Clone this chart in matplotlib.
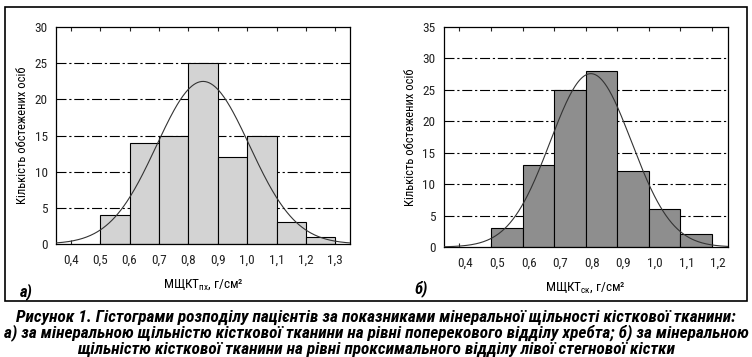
import numpy as np
import matplotlib
matplotlib.use('Agg')
import matplotlib.pyplot as plt
import matplotlib.transforms as mtransforms
from matplotlib import font_manager
from matplotlib.patches import Rectangle

# дані гістограм (межі інтервалів і кількість осіб)
edges_a = [0.5, 0.6, 0.7, 0.8, 0.9, 1.0, 1.1, 1.2, 1.3]
counts_a = [4, 14, 15, 25, 12, 15, 3, 1]
edges_b = [0.5, 0.6, 0.7, 0.8, 0.9, 1.0, 1.1, 1.2]
counts_b = [3, 13, 25, 28, 12, 6, 2]

xticks_a = [0.4, 0.5, 0.6, 0.7, 0.8, 0.9, 1.0, 1.1, 1.2, 1.3]
xticks_b = [0.4, 0.5, 0.6, 0.7, 0.8, 0.9, 1.0, 1.1, 1.2]
yticks_a = [0, 5, 10, 15, 20, 25, 30]
yticks_b = [0, 5, 10, 15, 20, 25, 30, 35]

ylabel = 'Кількість обстежених осіб'
xlabel_a = r'МЩКТ$_{\mathregular{пх}}$, г/см²'
xlabel_b = r'МЩКТ$_{\mathregular{ск}}$, г/см²'
caption = ('Рисунок 1. Гістограми розподілу пацієнтів за показниками мінеральної щільності кісткової тканини:\n'
           'а) за мінеральною щільністю кісткової тканини на рівні поперекового відділу хребта; б) за мінеральною\n'
           'щільністю кісткової тканини на рівні проксимального відділу лівої стегнової кістки')

installed = {f.name for f in font_manager.fontManager.ttflist}
narrow = next((f for f in ['Liberation Sans Narrow', 'Roboto Condensed', 'Liberation Sans']
               if f in installed), 'DejaVu Sans')
plt.rcParams['font.family'] = [narrow, 'DejaVu Sans']
plt.rcParams['mathtext.fontset'] = 'custom'
plt.rcParams['mathtext.rm'] = narrow


def draw_hist(ax, edges, counts, color, xlim, ylim, xticks, yticks, xlabel):
    edges = np.array(edges)
    counts = np.array(counts)
    left = edges[:-1]
    ax.bar(left, counts, width=np.diff(edges), align='edge', color=color,
           edgecolor='black', linewidth=0.8, zorder=2)
    # нормальна крива за середнім і ст. відхиленням гістограми
    centers = left + np.diff(edges) / 2
    n = counts.sum()
    mu = (centers * counts).sum() / n
    sd = np.sqrt(((centers - mu) ** 2 * counts).sum() / n)
    xs = np.linspace(xlim[0], xlim[1], 300)
    ys = n * 0.1 / (sd * np.sqrt(2 * np.pi)) * np.exp(-0.5 * ((xs - mu) / sd) ** 2)
    ax.plot(xs, ys, color='#333333', linewidth=0.8, zorder=3)
    ax.set_xlim(*xlim)
    ax.set_ylim(*ylim)
    ax.set_xticks(xticks)
    ax.set_xticklabels([f'{t:.1f}'.replace('.', ',') for t in xticks])
    ax.set_yticks(yticks)
    ax.tick_params(direction='in', top=True, right=False, length=3, width=0.8,
                   labelsize=9.5, pad=7, colors='#222222')
    ax.tick_params(axis='y', length=0, pad=6)
    for y in yticks[1:-1]:
        ax.axhline(y, color='black', linewidth=0.8, linestyle=(0, (9, 2.5, 2, 2.5)), zorder=1)
    for s in ax.spines.values():
        s.set_linewidth(0.9)
    ax.set_ylabel(ylabel, fontsize=9, labelpad=4)
    ax.set_xlabel(xlabel, fontsize=9.5, labelpad=8)


fig = plt.figure(figsize=(7.52, 3.57), dpi=100)
ax1 = fig.add_axes([0.0745, 0.3165, 0.3910, 0.6078])
ax2 = fig.add_axes([0.590, 0.3081, 0.3777, 0.6171])

draw_hist(ax1, edges_a, counts_a, '#d3d3d3', (0.35, 1.35), (0, 30), xticks_a, yticks_a, xlabel_a)
draw_hist(ax2, edges_b, counts_b, '#8e8e8e', (0.35, 1.25), (0, 35), xticks_b, yticks_b, xlabel_b)

# підписи правого графіка трохи зсунуті праворуч, як в оригіналі
offset = mtransforms.ScaledTranslation(6 / 100, 0, fig.dpi_scale_trans)
for lab in ax2.get_xticklabels():
    lab.set_transform(lab.get_transform() + offset)

fig.text(20 / 752, 1 - 292 / 357, 'а)', fontsize=12, fontweight='bold', fontstyle='italic',
         va='center', ha='left')
fig.text(414 / 752, 1 - 289 / 357, 'б)', fontsize=12, fontweight='bold', fontstyle='italic',
         va='center', ha='left')

fig.patches.append(Rectangle((5 / 752, 1 - 301 / 357), 742 / 752, 294 / 357,
                             transform=fig.transFigure, fill=False,
                             edgecolor='black', linewidth=1.2))

fig.text(0.5, 1 - 333 / 357, caption, fontsize=12.4, fontweight='bold', fontstyle='italic',
         ha='center', va='center', linespacing=1.0)

fig.savefig('out.png', dpi=100)
